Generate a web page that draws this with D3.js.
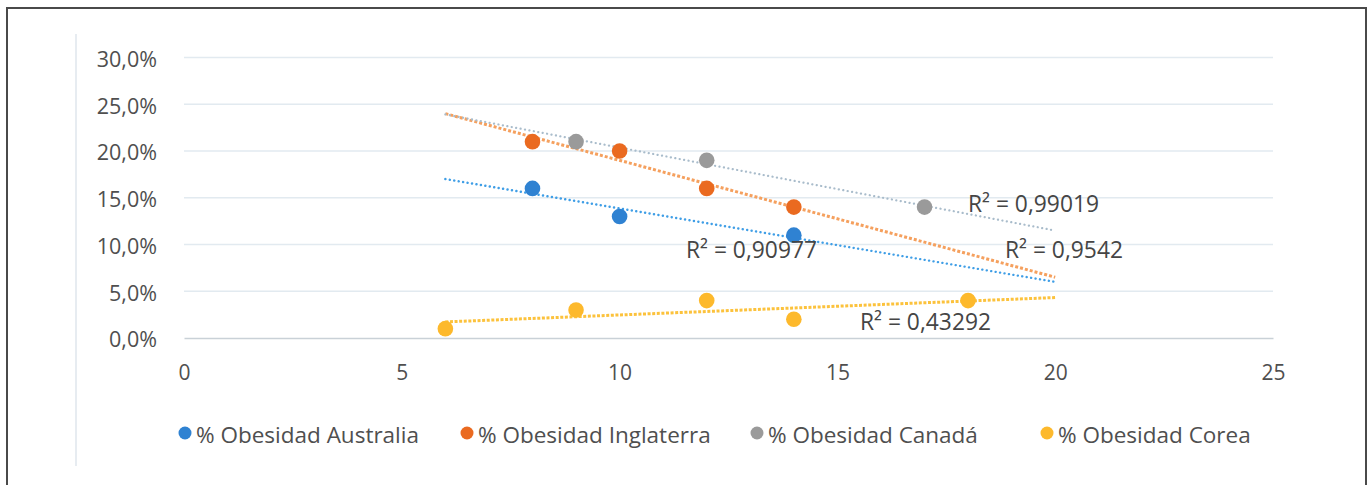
<!DOCTYPE html>
<html>
<head>
<meta charset="utf-8">
<script src="https://cdn.jsdelivr.net/npm/d3@7/dist/d3.min.js"></script>
<style>
  html, body { margin: 0; padding: 0; background: #fff; }
  svg { display: block; }
  text { font-family: "Open Sans", Lato, sans-serif; }
</style>
</head>
<body>
<svg id="chart" width="1371" height="485"></svg>
<script>
// ---- data ----
const seriesNames = ["% Obesidad Australia", "% Obesidad Inglaterra", "% Obesidad Canadá", "% Obesidad Corea"];
const australiaX = [8, 10, 14];
const australiaY = [0.16, 0.13, 0.11];
const inglaterraX = [8, 10, 12, 14];
const inglaterraY = [0.21, 0.20, 0.16, 0.14];
const canadaX = [9, 12, 17];
const canadaY = [0.21, 0.19, 0.14];
const coreaX = [6, 9, 12, 14, 18];
const coreaY = [0.01, 0.03, 0.04, 0.02, 0.04];
const xTicks = [0, 5, 10, 15, 20, 25];
const yTicks = [0, 0.05, 0.10, 0.15, 0.20, 0.25, 0.30];
const trendRange = [6, 20];

// ---- styles ----
const markerColors = ["#2f82d2", "#ea6a20", "#9a9a9a", "#fdb92c"];
const trendStyles = [
  {color: "#3f9ee6", width: 2.4, dash: "0.1 4.4", cap: "round"},
  {color: "#f5a05e", width: 3, dash: "3 2", cap: "butt"},
  {color: "#a9bccb", width: 2.2, dash: "0.1 4.4", cap: "round"},
  {color: "#fcc23c", width: 3, dash: "3 1.6", cap: "butt"}
];
const labelPos = [[686, 258], [1005, 258], [968, 212], [860, 330]];

const series = [
  {name: seriesNames[0], xs: australiaX, ys: australiaY},
  {name: seriesNames[1], xs: inglaterraX, ys: inglaterraY},
  {name: seriesNames[2], xs: canadaX, ys: canadaY},
  {name: seriesNames[3], xs: coreaX, ys: coreaY}
];

function regress(xs, ys) {
  const n = xs.length;
  const mx = d3.mean(xs), my = d3.mean(ys);
  let sxx = 0, sxy = 0, syy = 0;
  for (let i = 0; i < n; i++) {
    sxx += (xs[i] - mx) ** 2;
    sxy += (xs[i] - mx) * (ys[i] - my);
    syy += (ys[i] - my) ** 2;
  }
  const b = sxy / sxx;
  return {a: my - b * mx, b, r2: (sxy * sxy) / (sxx * syy)};
}

const svg = d3.select("#chart");

// outer border
svg.append("rect").attr("x", 7).attr("y", 8).attr("width", 1359).attr("height", 500)
  .attr("fill", "none").attr("stroke", "#4a4a4a").attr("stroke-width", 2);
// chart area left edge
svg.append("line").attr("x1", 76).attr("x2", 76).attr("y1", 34).attr("y2", 466)
  .attr("stroke", "#dfe6ec").attr("stroke-width", 1.5);

const x = d3.scaleLinear().domain([0, 25]).range([184, 1273]);
const y = d3.scaleLinear().domain([0, 0.30]).range([338, 57.5]);

// gridlines
svg.append("g").selectAll("line").data(yTicks.slice(1)).join("line")
  .attr("x1", x(0)).attr("x2", x(25))
  .attr("y1", d => y(d)).attr("y2", d => y(d))
  .attr("stroke", "#e2eaf0").attr("stroke-width", 1.5);

// x axis
const xAxis = svg.append("g").attr("transform", `translate(0,${y(0)})`)
  .call(d3.axisBottom(x).tickValues(xTicks).tickSize(0).tickPadding(27).tickFormat(d3.format("d")));
xAxis.select(".domain").attr("stroke", "#c9d1d7").attr("stroke-width", 1.5);
xAxis.selectAll("text").attr("fill", "#4f4f4f").style("font-size", "21px");

// y axis
const fmtPct = d => (d * 100).toFixed(1).replace(".", ",") + "%";
const yAxis = svg.append("g").attr("transform", `translate(${x(0)},2)`)
  .call(d3.axisLeft(y).tickValues(yTicks).tickSize(0).tickPadding(27).tickFormat(fmtPct));
yAxis.select(".domain").remove();
yAxis.selectAll("text").attr("fill", "#4f4f4f").style("font-size", "21.5px");

// trendlines
series.forEach((s, i) => {
  const r = regress(s.xs, s.ys);
  s.reg = r;
  const st = trendStyles[i];
  const pts = trendRange.map(v => [x(v), y(r.a + r.b * v)]);
  svg.append("path").attr("d", d3.line()(pts))
    .attr("fill", "none").attr("stroke", st.color).attr("stroke-width", st.width)
    .attr("stroke-dasharray", st.dash).attr("stroke-linecap", st.cap);
});

// points
series.forEach((s, i) => {
  svg.append("g").selectAll("circle").data(s.xs.map((v, j) => [v, s.ys[j]])).join("circle")
    .attr("cx", d => x(d[0])).attr("cy", d => y(d[1])).attr("r", 7.8)
    .attr("fill", markerColors[i]);
});

// R² labels
const fmtR2 = v => v.toFixed(5).replace(/0+$/, "").replace(".", ",");
series.forEach((s, i) => {
  svg.append("text").attr("x", labelPos[i][0]).attr("y", labelPos[i][1])
    .attr("fill", "#454545").style("font-size", "22.8px")
    .text("R\u00B2 = " + fmtR2(s.reg.r2));
});

// legend
const legendX = [185, 467, 757, 1047];
const lg = svg.append("g");
series.forEach((s, i) => {
  lg.append("circle").attr("cx", legendX[i]).attr("cy", 433).attr("r", 6.5).attr("fill", markerColors[i]);
  lg.append("text").attr("x", legendX[i] + 11).attr("y", 443).text(s.name)
    .attr("fill", "#4f4f4f").style("font-size", "22.5px");
});
</script>
</body>
</html>
